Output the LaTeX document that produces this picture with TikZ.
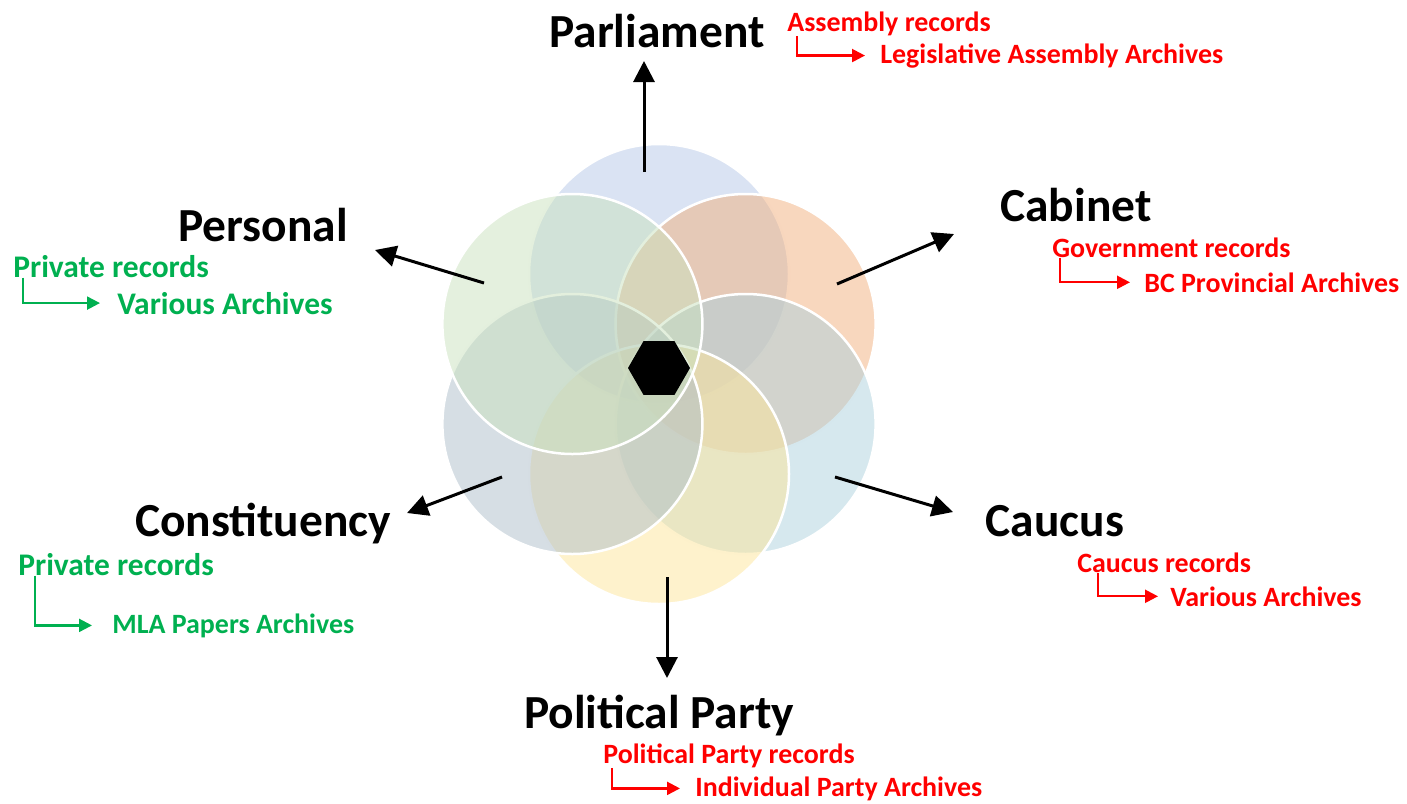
\documentclass[tikz,border=0pt]{standalone}
\usepackage{fontspec}
\setmainfont{Carlito}
\usetikzlibrary{arrows.meta,shapes.geometric}

% Fuellfarben der Kreise
\definecolor{parlfill}{RGB}{181,199,231}
\definecolor{cabfill}{RGB}{241,175,125}
\definecolor{caufill}{RGB}{173,209,221}
\definecolor{partyfill}{RGB}{253,229,153}
\definecolor{constfill}{RGB}{173,189,201}
\definecolor{persfill}{RGB}{201,225,189}
\definecolor{recred}{RGB}{255,0,0}
\definecolor{recgreen}{RGB}{0,176,80}

\tikzset{
  venn/.style={fill=#1, fill opacity=0.5, draw=white, line width=0.5mm},
  outarrow/.style={line width=0.6mm, -{Triangle[length=4.2mm,width=4.2mm]}},
  role/.style={font=\fontsize{27}{32}\selectfont\bfseries, inner sep=0pt, anchor=base},
  rec/.style={font=\fontsize{15.9}{19}\selectfont\bfseries, inner sep=0pt, anchor=base west, text=#1},
  recbig/.style={font=\fontsize{17.9}{21}\selectfont\bfseries, inner sep=0pt, anchor=base west, text=#1},
  bent/.style={#1, line width=0.45mm, -{Triangle[length=2.6mm,width=2.6mm]}}
}

\begin{document}
\begin{tikzpicture}[x=0.2mm, y=-0.2mm]
    \useasboundingbox (0,0) rectangle (1407,803);

    % Kreise, im Uhrzeigersinn ab oben
    \path[venn=parlfill]  (659,274) circle (130);
    \path[venn=cabfill]   (745.6,324) circle (130);
    \path[venn=caufill]   (745.6,424) circle (130);
    \path[venn=partyfill] (659,474) circle (130);
    \path[venn=constfill] (572.4,424) circle (130);
    \path[venn=persfill]  (572.4,324) circle (130);

    % Sechseck in der Mitte
    \node[regular polygon, regular polygon sides=6, fill=black, inner sep=0pt, minimum size=12.4mm] (hub) at (659,368) {};

    % Pfeile nach aussen
    \coordinate (parl-s)  at (644,172);  \coordinate (parl-e)  at (644,61);
    \coordinate (cab-s)   at (837,284);  \coordinate (cab-e)   at (954,234);
    \coordinate (cau-s)   at (835,477);  \coordinate (cau-e)   at (953,512);
    \coordinate (party-s) at (667,577);  \coordinate (party-e) at (667,678);
    \coordinate (const-s) at (502,477);  \coordinate (const-e) at (407,513);
    \coordinate (pers-s)  at (484,283);  \coordinate (pers-e)  at (375,250);
    \foreach \n in {parl,cab,cau,party,const,pers}
        \draw[outarrow] (\n-s) -- (\n-e);

    % Bereiche
    \node[role] (parl)  at (657,47)  {Parliament};
    \node[role] (cab)   at (1076,221) {Cabinet};
    \node[role] (cau)   at (1055,536) {Caucus};
    \node[role] (party) at (659,728) {Political Party};
    \node[role] (const) at (263,536) {Constituency};
    \node[role] (pers)  at (263,241) {Personal};

    % Akten und Archive
    \node[rec=recred] (parl-rec) at (787,31)  {Assembly records};
    \node[rec=recred] (parl-arc) at (880,63)  {Legislative Assembly Archives};
    \draw[bent=recred] ([xshift=2mm]parl-rec.south west) |- ([xshift=-3mm]parl-arc.west);

    \node[rec=recred] (cab-rec) at (1052,257) {Government records};
    \node[rec=recred] (cab-arc) at (1144,292) {BC Provincial Archives};
    \draw[bent=recred] ([xshift=1.6mm]cab-rec.south west) |- ([xshift=-2.8mm]cab-arc.west);

    \node[rec=recred] (cau-rec) at (1077,572) {Caucus records};
    \node[rec=recred] (cau-arc) at (1170,606) {Various Archives};
    \draw[bent=recred] ([xshift=4.2mm]cau-rec.south west) |- ([xshift=-2.4mm]cau-arc.west);

    \node[rec=recred] (party-rec) at (603,763) {Political Party records};
    \node[rec=recred] (party-arc) at (695,796) {Individual Party Archives};
    \draw[bent=recred] ([xshift=1.8mm]party-rec.south west) |- ([xshift=-3mm]party-arc.west);

    \node[recbig=recgreen] (pers-rec) at (13,277) {Private records};
    \node[recbig=recgreen] (pers-arc) at (117,314) {Various Archives};
    \draw[bent=recgreen] ([xshift=2mm]pers-rec.south west) |- ([xshift=-3.4mm]pers-arc.west);

    \node[recbig=recgreen] (const-rec) at (18,575) {Private records};
    \node[rec=recgreen] (const-arc) at (112,633) {MLA Papers Archives};
    \draw[bent=recgreen] ([xshift=3.4mm]const-rec.south west) |- ([xshift=-4mm]const-arc.west);
\end{tikzpicture}
\end{document}
